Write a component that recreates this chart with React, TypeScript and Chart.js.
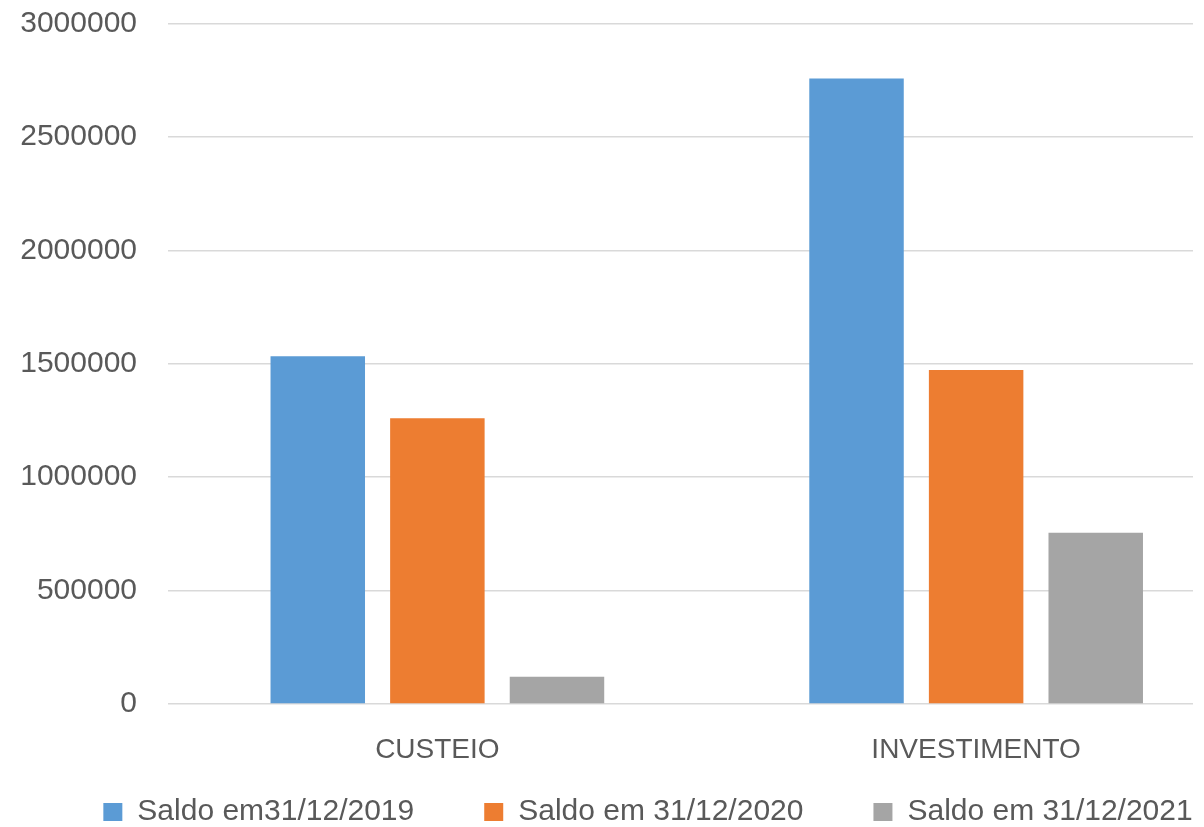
import React, { useEffect, useRef } from "react";
import { Chart, registerables } from "chart.js";

Chart.register(...registerables);

const categories = ["CUSTEIO", "INVESTIMENTO"];
const seriesLabels = ["Saldo em31/12/2019", "Saldo em 31/12/2020", "Saldo em 31/12/2021"];
const saldo2019 = [1533000, 2758000];
const saldo2020 = [1260000, 1472000];
const saldo2021 = [120000, 755000];
const yMin = 0;
const yMax = 3000000;
const yStep = 500000;
const seriesColors = ["#5B9BD5", "#ED7D31", "#A5A5A5"];

const FONT = "'Liberation Sans', Arial, sans-serif";
const TEXT = "#595959";
const GRID_END_X = 1193;
const CANVAS_W = 1296;
const CANVAS_H = 827;
const X_AXIS_H = 60;
const LEGEND_LAYOUT_H = 63;
const LEGEND_DRAW_H = 100;

const legendPatch = {
  id: "legendPatch",
  beforeLayout(chart: any) {
    const lg = chart.legend;
    if (lg && !lg.__patched) {
      const orig = lg.fit;
      lg.fit = function () {
        orig.call(this);
        this.height = LEGEND_LAYOUT_H;
      };
      lg.__patched = true;
    }
  },
  afterLayout(chart: any) {
    const lg = chart.legend;
    if (lg) {
      lg.left = 0;
      lg.right = chart.width;
      lg.width = chart.width;
      lg.top = lg.bottom - LEGEND_DRAW_H;
    }
  },
};

const trimGrid = {
  id: "trimGrid",
  beforeDatasetsDraw(chart: any) {
    const { ctx, chartArea } = chart;
    ctx.save();
    ctx.fillStyle = "#ffffff";
    ctx.fillRect(
      GRID_END_X,
      chartArea.top - 4,
      chartArea.right - GRID_END_X + 4,
      chartArea.bottom - chartArea.top + 8
    );
    ctx.restore();
  },
};

export default function App() {
  const ref = useRef<HTMLCanvasElement | null>(null);

  useEffect(() => {
    if (!ref.current) return;
    const series = [saldo2019, saldo2020, saldo2021];
    const chart = new Chart(ref.current, {
      type: "bar",
      data: {
        labels: categories,
        datasets: series.map((d, i) => ({
          label: seriesLabels[i],
          data: d,
          backgroundColor: seriesColors[i],
          borderWidth: 0,
          categoryPercentage: 0.666,
          barPercentage: 0.79,
        })),
      },
      options: {
        responsive: false,
        animation: false,
        layout: { padding: { top: 23.5, right: 50.5, left: 0, bottom: 0 } },
        plugins: {
          tooltip: { enabled: false },
          legend: {
            position: "bottom",
            labels: {
              boxWidth: 19,
              boxHeight: 18,
              padding: 70,
              color: TEXT,
              font: { family: FONT, size: 30 },
            },
          },
        },
        scales: {
          x: {
            grid: { display: false },
            border: { display: false },
            ticks: {
              color: TEXT,
              font: { family: FONT, size: 28 },
              padding: 21,
              maxRotation: 0,
            },
            afterFit(scale: any) {
              scale.height = X_AXIS_H;
            },
          },
          y: {
            min: yMin,
            max: yMax,
            border: { display: false },
            grid: {
              color: "#d9d9d9",
              lineWidth: 1.5,
              drawTicks: true,
              tickLength: 31,
              tickColor: "rgba(0,0,0,0)",
            },
            ticks: {
              stepSize: yStep,
              color: TEXT,
              font: { family: FONT, size: 30 },
              padding: 0,
              callback: (v: any) => String(v),
            },
            afterFit(scale: any) {
              scale.width = 168;
            },
          },
        },
      },
      plugins: [legendPatch, trimGrid],
    });
    return () => chart.destroy();
  }, []);

  return (
    <div
      style={{
        position: "fixed",
        left: 0,
        top: 0,
        width: 1204,
        height: 827,
        overflow: "hidden",
        background: "#ffffff",
      }}
    >
      <canvas ref={ref} width={CANVAS_W} height={CANVAS_H} style={{ display: "block" }} />
    </div>
  );
}
